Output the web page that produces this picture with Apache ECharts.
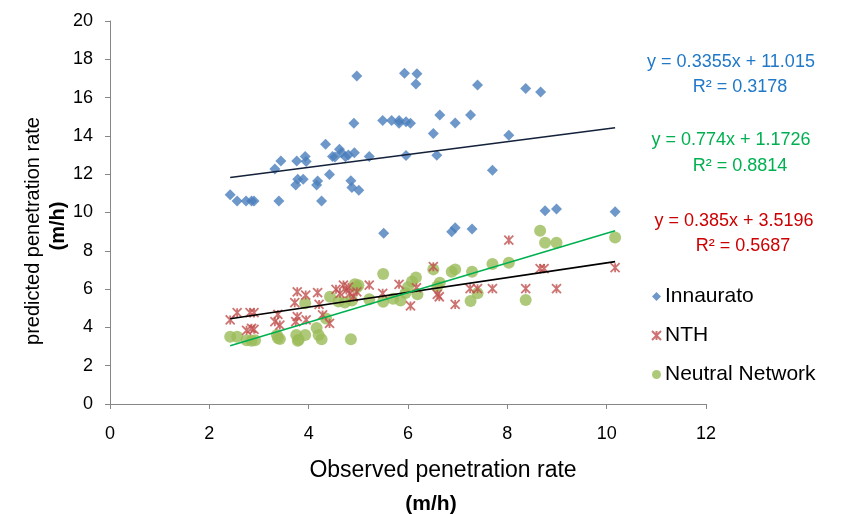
<!DOCTYPE html>
<html>
<head>
<meta charset="utf-8">
<script src="https://cdn.jsdelivr.net/npm/echarts@6/dist/echarts.min.js"></script>
<style>html,body{margin:0;padding:0;background:#fff}#c{width:856px;height:514px}</style>
</head>
<body>
<div id="c"></div>
<script>
// ---- data ----
var seriesNames = ['Innaurato', 'NTH', 'Neutral Network'];
var innX = [2.42,2.56,2.74,2.85,2.9,3.32,3.44,3.40,3.76,3.93,3.95,3.74,3.78,3.89,4.18,4.16,4.26,4.34,4.42,4.48,4.53,4.62,4.66,4.74,4.80,4.92,4.91,4.97,4.85,4.87,5.01,5.22,5.49,5.67,5.82,5.82,5.96,6.05,5.96,5.93,6.18,6.16,7.40,8.37,8.67,6.64,6.51,6.95,7.26,8.03,6.58,7.70,8.76,8.99,10.17,6.88,6.95,7.29,5.51];
var innY = [10.93,10.6,10.6,10.6,10.6,12.27,12.69,10.6,12.69,12.93,12.66,11.44,11.73,11.73,11.64,11.44,10.6,13.56,11.99,12.93,12.9,13.3,13.12,12.91,13.0,13.12,14.66,17.13,11.66,11.3,11.16,12.93,14.81,14.81,14.81,14.66,14.74,14.66,12.97,17.27,17.25,16.71,16.66,16.48,16.29,15.09,14.12,14.67,15.09,14.03,12.99,12.2,10.09,10.18,10.04,9.0,9.2,9.14,8.91];
var nthX = [2.42,2.56,2.75,2.85,2.9,2.82,2.9,3.38,3.32,3.42,3.77,3.94,4.18,3.72,3.77,3.95,3.74,4.21,4.28,4.42,4.55,4.70,4.76,4.83,4.90,4.97,4.63,4.8,5.22,5.49,5.82,6.05,6.17,6.51,6.59,6.63,6.95,7.25,7.40,7.70,8.03,8.37,8.66,8.74,8.99,10.17];
var nthY = [4.39,4.77,3.85,3.95,3.9,4.77,4.77,4.68,4.30,4.12,5.86,5.69,5.81,5.29,4.56,4.39,4.3,5.2,4.65,4.21,5.99,6.21,5.95,5.78,5.6,5.86,5.78,6.1,6.21,5.78,6.25,5.12,6.07,7.17,5.73,5.6,5.2,6.02,6.02,6.02,8.56,6.02,7.07,7.07,6.02,7.12];
var nnX = [2.42,2.56,2.75,2.85,2.92,3.36,3.42,3.38,3.75,3.8,3.93,3.78,4.16,4.2,4.26,3.93,4.35,4.43,4.6,4.73,4.87,4.93,4.97,5.0,4.85,5.22,5.50,5.50,5.7,5.85,5.95,6.0,6.08,6.16,6.19,6.51,6.59,6.64,6.88,6.95,7.26,7.29,7.40,7.70,8.03,8.37,8.66,8.76,8.99,10.17];
var nnY = [3.51,3.51,3.33,3.3,3.33,3.6,3.4,3.45,3.6,3.35,3.6,3.3,3.97,3.6,3.38,5.26,4.47,5.6,5.35,5.3,5.4,6.25,6.1,6.2,3.38,5.47,6.79,5.34,5.5,5.4,5.8,6.1,6.4,6.6,5.73,7.03,6.13,6.33,6.91,7.03,5.38,6.91,5.78,7.31,7.38,5.43,9.05,8.42,8.42,8.7];
// linear trendlines shown on the chart: y = slope*x + intercept, with R²
var trendSlope = [0.3355, 0.385, 0.774];
var trendIntercept = [11.015, 3.5196, 1.1726];
var trendR2 = ['0.3178', '0.5687', '0.8814'];
var trendEq = ['y = 0.3355x + 11.015', 'y = 0.385x + 3.5196', 'y = 0.774x + 1.1726'];
var xTicks = [0, 2, 4, 6, 8, 10, 12];
var yTicks = [0, 2, 4, 6, 8, 10, 12, 14, 16, 18, 20];

// ---- build ----
function zip(a, b) { return a.map(function (v, i) { return [v, b[i]]; }); }
var allX = innX.concat(nthX, nnX);
var xMin = Math.min.apply(null, allX), xMax = Math.max.apply(null, allX);
function trend(i) {
  return [[xMin, trendSlope[i] * xMin + trendIntercept[i]], [xMax, trendSlope[i] * xMax + trendIntercept[i]]];
}
var FONT = '"Liberation Sans", Arial, Helvetica, sans-serif';
var cBlue = '#4a7ebb', cRed = '#c0504d', cGreen = '#9bbb59';
var starPath = 'path://M0,0L10,10M10,0L0,10M5,0L5,10';

var chart = echarts.init(document.getElementById('c'), null, { renderer: 'canvas' });
chart.setOption({
  animation: false,
  backgroundColor: '#fff',
  textStyle: { fontFamily: FONT },
  grid: { left: 110, right: 150, top: 21, bottom: 110 },
  xAxis: {
    type: 'value', min: xTicks[0], max: xTicks[xTicks.length - 1], interval: 2,
    axisLine: { show: true, lineStyle: { color: '#868686', width: 1 } },
    axisTick: { show: true, length: 5, lineStyle: { color: '#868686' } },
    splitLine: { show: false },
    axisLabel: { fontSize: 18, color: '#000', margin: 21, fontFamily: FONT }
  },
  yAxis: {
    type: 'value', min: yTicks[0], max: yTicks[yTicks.length - 1], interval: 2,
    axisLine: { show: true, lineStyle: { color: '#868686', width: 1 } },
    axisTick: { show: true, length: 5, lineStyle: { color: '#868686' } },
    splitLine: { show: false },
    axisLabel: { fontSize: 18, color: '#000', margin: 17, fontFamily: FONT }
  },
  legend: {
    data: seriesNames,
    orient: 'vertical', left: 646, top: 281, itemGap: 18,
    itemWidth: 9, itemHeight: 9,
    textStyle: { fontSize: 21, color: '#000', fontFamily: FONT, padding: [0, 0, 0, -1] }
  },
  series: [
    { name: 'Innaurato', type: 'scatter', data: zip(innX, innY), symbol: 'diamond', symbolSize: 11,
      itemStyle: { color: cBlue }, z: 3 },
    { name: 'NTH', type: 'scatter', data: zip(nthX, nthY), symbol: starPath, symbolSize: 9,
      itemStyle: { color: 'rgba(0,0,0,0)', borderColor: cRed, borderWidth: 1.8 }, z: 4 },
    { name: 'Neutral Network', type: 'scatter', data: zip(nnX, nnY), symbol: 'circle', symbolSize: 12,
      itemStyle: { color: cGreen }, z: 3 },
    { name: 'trend-inn', type: 'line', data: trend(0), symbol: 'none', lineStyle: { color: '#14213a', width: 1.6 }, z: 5, silent: true },
    { name: 'trend-nth', type: 'line', data: trend(1), symbol: 'none', lineStyle: { color: '#000', width: 1.6 }, z: 5, silent: true },
    { name: 'trend-nn', type: 'line', data: trend(2), symbol: 'none', lineStyle: { color: '#00b050', width: 1.6 }, z: 5, silent: true }
  ],
  graphic: [
    { type: 'text', x: 731, y: 62, style: { text: trendEq[0], fill: '#1f78c8', font: '18px ' + FONT, align: 'center', verticalAlign: 'middle' } },
    { type: 'text', x: 740, y: 87, style: { text: 'R² = ' + trendR2[0], fill: '#1f78c8', font: '18px ' + FONT, align: 'center', verticalAlign: 'middle' } },
    { type: 'text', x: 731, y: 140, style: { text: trendEq[2], fill: '#00b050', font: '18px ' + FONT, align: 'center', verticalAlign: 'middle' } },
    { type: 'text', x: 740, y: 166, style: { text: 'R² = ' + trendR2[2], fill: '#00b050', font: '18px ' + FONT, align: 'center', verticalAlign: 'middle' } },
    { type: 'text', x: 734, y: 221, style: { text: trendEq[1], fill: '#cc0000', font: '18px ' + FONT, align: 'center', verticalAlign: 'middle' } },
    { type: 'text', x: 743, y: 246, style: { text: 'R² = ' + trendR2[1], fill: '#cc0000', font: '18px ' + FONT, align: 'center', verticalAlign: 'middle' } },
    { type: 'text', x: 443, y: 471, style: { text: 'Observed penetration rate', fill: '#000', font: '23px ' + FONT, align: 'center', verticalAlign: 'middle' } },
    { type: 'text', x: 431, y: 504, style: { text: '(m/h)', fill: '#000', font: 'bold 21px ' + FONT, align: 'center', verticalAlign: 'middle' } },
    { type: 'text', x: 33, y: 231, rotation: Math.PI / 2, style: { text: 'predicted penetration rate', fill: '#000', font: '20px ' + FONT, align: 'center', verticalAlign: 'middle' } },
    { type: 'text', x: 58, y: 226, rotation: Math.PI / 2, style: { text: '(m/h)', fill: '#000', font: 'bold 20px ' + FONT, align: 'center', verticalAlign: 'middle' } }
  ]
});
</script>
</body>
</html>
